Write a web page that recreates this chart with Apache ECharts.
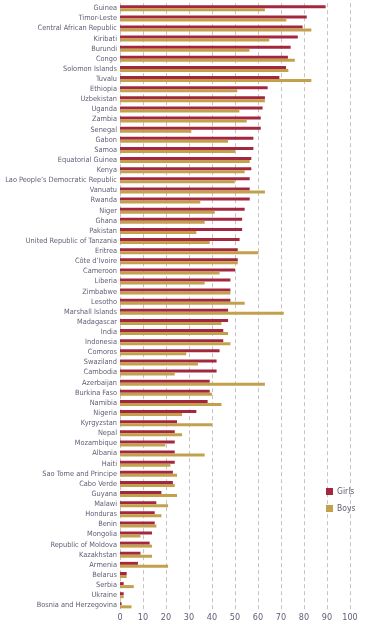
<!DOCTYPE html>
<html>
<head>
<meta charset="utf-8">
<script src="https://cdn.jsdelivr.net/npm/echarts@6/dist/echarts.min.js"></script>
<style>
html,body{margin:0;padding:0;background:#fff;}
#chart{width:391px;height:626px;}
</style>
</head>
<body>
<div id="chart"></div>
<script>
var countries = ["Guinea","Timor-Leste","Central African Republic","Kiribati","Burundi","Congo","Solomon Islands","Tuvalu","Ethiopia","Uzbekistan","Uganda","Zambia","Senegal","Gabon","Samoa","Equatorial Guinea","Kenya","Lao People\u2019s Democratic Republic","Vanuatu","Rwanda","Niger","Ghana","Pakistan","United Republic of Tanzania","Eritrea","C\u00f4te d\u2019Ivoire","Cameroon","Liberia","Zimbabwe","Lesotho","Marshall Islands","Madagascar","India","Indonesia","Comoros","Swaziland","Cambodia","Azerbaijan","Burkina Faso","Namibia","Nigeria","Kyrgyzstan","Nepal","Mozambique","Albania","Haiti","Sao Tome and Principe","Cabo Verde","Guyana","Malawi","Honduras","Benin","Mongolia","Republic of Moldova","Kazakhstan","Armenia","Belarus","Serbia","Ukraine","Bosnia and Herzegovina"];
var girls = [89.4,81.2,79.4,77.3,74.2,73.0,72.2,69.3,64.2,63.0,62.0,61.2,61.2,58.0,58.0,57.1,57.1,56.4,56.4,56.4,54.2,53.1,53.1,52.0,51.2,51.2,50.0,48.0,48.0,48.0,47.0,47.0,44.9,44.9,43.3,42.0,42.0,39.0,39.0,38.1,33.2,24.8,23.8,23.8,23.8,23.8,23.0,23.0,18.0,15.8,15.1,15.1,13.9,12.9,8.9,7.8,2.9,1.6,1.6,0.7];
var boys = [63.0,72.3,83.2,64.9,56.3,76.0,73.2,83.2,51.0,63.0,51.9,55.1,31.0,47.0,50.0,56.4,54.2,49.9,63.0,34.9,41.2,36.8,33.2,39.0,60.2,51.2,43.3,36.8,48.0,54.2,71.2,44.1,47.0,48.0,28.8,33.9,23.8,63.0,40.0,44.1,27.0,40.0,27.0,19.7,36.8,21.9,24.8,23.8,24.8,20.9,18.0,15.8,8.9,13.9,13.9,20.9,2.9,6.0,1.6,5.0];
var seriesNames = ["Girls","Boys"];
var xTicks = [0,10,20,30,40,50,60,70,80,90,100];

var font = "'Liberation Sans Narrow','DejaVu Sans Condensed','Roboto Condensed','Liberation Sans',sans-serif";
// choose label size so the longest label fits in the left margin as in the reference
var ctx = document.createElement('canvas').getContext('2d');
ctx.font = "10px " + font;
var wLao = ctx.measureText(countries[17]).width;
var labelSize = Math.max(6.8, Math.min(9, 10 * 112 / wLao));

var chart = echarts.init(document.getElementById('chart'));
chart.setOption({
  animation:false,
  backgroundColor:'#ffffff',
  grid:{left:120,right:41,top:3.2,bottom:15.6,containLabel:false,outerBoundsMode:'none'},
  legend:{
    orient:'vertical', left:321, top:482,
    itemWidth:7, itemHeight:7, itemGap:8,
    icon:'rect',
    textStyle:{fontFamily:font,fontSize:8.5,color:'#5e5e75',padding:[0,0,0,-1]},
    data:seriesNames
  },
  xAxis:{
    type:'value', min:0, max:100, interval:10,
    axisLine:{show:false}, axisTick:{show:false},
    axisLabel:{fontFamily:font,fontSize:9,color:'#5e5e75',margin:3,
      formatter:function(v){return xTicks.indexOf(v)>=0?String(v):'';}},
    splitLine:{show:true,lineStyle:{color:'#c4c4c4',type:[4,3],width:1}}
  },
  yAxis:{
    type:'category', data:countries, inverse:true,
    axisLine:{show:false}, axisTick:{show:false},
    axisLabel:{fontFamily:font,fontSize:labelSize,color:'#5e5e75',margin:3,interval:0}
  },
  series:[
    {name:seriesNames[0],type:'bar',data:girls,barWidth:3,barGap:'0%',
     itemStyle:{color:'#a3283f'}},
    {name:seriesNames[1],type:'bar',data:boys,barWidth:3,barGap:'0%',
     itemStyle:{color:'#c3a14c'}}
  ]
});
</script>
</body>
</html>
